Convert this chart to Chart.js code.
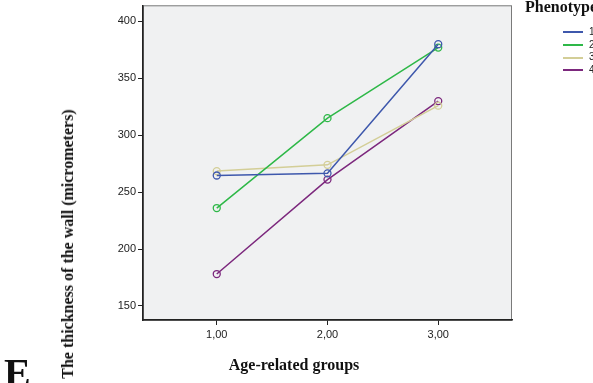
<!DOCTYPE html>
<html>
<head>
<meta charset="utf-8">
<title>Wall thickness by age group</title>
<style>
    html, body { margin: 0; padding: 0; background: #ffffff; overflow: hidden; }
    .wrap { position: relative; width: 593px; height: 383px; overflow: hidden; }
    canvas { position: absolute; left: 0; top: 0; }
    .serif { position: absolute; font-family: 'Liberation Serif', 'DejaVu Serif', serif; font-weight: bold; color: #111; white-space: nowrap; }
    #ytitle { left: 68px; top: 244px; font-size: 16px; transform: translate(-50%, -50%) rotate(-90deg); }
    #xtitle { left: 294px; top: 365px; font-size: 16px; transform: translate(-50%, -50%); }
    #letter { left: 4px; top: 353px; font-size: 40px; line-height: 40px; }
    #legtitle { left: 525px; top: -2px; font-size: 16px; }
    .leg { position: absolute; left: 563px; white-space: nowrap; font-family: 'Liberation Sans', Arial, sans-serif; font-size: 10px; line-height: 12px; color: #222; }
    .leg span { display: inline-block; width: 20px; height: 2px; vertical-align: middle; margin-right: 6px; }
</style>
<script src="https://cdn.jsdelivr.net/npm/chart.js"></script>
</head>
<body>
<div class="wrap">
    <canvas id="chart" width="593" height="383"></canvas>
    <div class="serif" id="ytitle">The thickness of the wall (micrometers)</div>
    <div class="serif" id="xtitle">Age-related groups</div>
    <div class="serif" id="letter">E</div>
    <div class="serif" id="legtitle">Phenotype</div>
    <div id="legend"></div>
</div>
<script>
// age-related groups on the x axis
var groups = [1, 2, 3];
var xTicks = [1, 2, 3];
var yTicks = [150, 200, 250, 300, 350, 400];

// mean wall thickness per phenotype
var phenotypes = ['1', '2', '3', '4'];
var pheno1 = [264.6, 266.5, 380];
var pheno2 = [236, 315, 377];
var pheno3 = [268.5, 274, 326];
var pheno4 = [178, 261, 330];
var colors = ['#3e58ac', '#2eb848', '#d3ce97', '#7c287d'];

var allSeries = [pheno1, pheno2, pheno3, pheno4];

// legend (html so the title can run off the edge like the original)
var legend = document.getElementById('legend');
phenotypes.forEach(function(p, i) {
    var d = document.createElement('div');
    d.className = 'leg';
    d.style.top = (26 + i * 12.7) + 'px';
    d.innerHTML = '<span style="background:' + colors[i] + '"></span>' + p;
    legend.appendChild(d);
});

var plotBg = {
    id: 'plotBg',
    beforeDraw: function(chart) {
        var c = chart.ctx, a = chart.chartArea;
        c.save();
        c.fillStyle = '#f0f1f2';
        c.fillRect(a.left, a.top, a.right - a.left, a.bottom - a.top);
        c.strokeStyle = '#7a7a7a';
        c.lineWidth = 1;
        c.strokeRect(a.left + 0.5, a.top + 0.5, a.right - a.left - 1, a.bottom - a.top);
        c.restore();
    }
};

var datasets = allSeries.map(function(s, i) {
    return {
        label: phenotypes[i],
        data: groups.map(function(g, j) { return { x: g, y: s[j] }; }),
        borderColor: colors[i],
        backgroundColor: 'rgba(0,0,0,0)',
        borderWidth: 1.5,
        pointRadius: 3.5,
        pointBorderWidth: 1.3,
        pointBackgroundColor: 'rgba(0,0,0,0)',
        pointBorderColor: colors[i],
        tension: 0
    };
});

new Chart(document.getElementById('chart').getContext('2d'), {
    type: 'line',
    data: { datasets: datasets },
    options: {
        responsive: false,
        animation: false,
        layout: { padding: { left: 0, right: 81, top: -3, bottom: 0 } },
        plugins: { legend: { display: false }, tooltip: { enabled: false } },
        scales: {
            x: {
                type: 'linear',
                min: 0.334,
                max: 3.666,
                afterBuildTicks: function(s) { s.ticks = xTicks.map(function(v) { return { value: v }; }); },
                afterFit: function(s) { s.height = 63; s.paddingLeft = 0; s.paddingRight = 0; },
                grid: { drawOnChartArea: false, drawTicks: true, tickLength: 5, color: '#222', lineWidth: 1 },
                border: { display: true, color: '#222', width: 1.5 },
                ticks: {
                    padding: 3,
                    color: '#222',
                    font: { family: "'Liberation Sans', Arial, sans-serif", size: 11 },
                    callback: function(v) { return v.toFixed(2).replace('.', ','); }
                }
            },
            y: {
                min: 137.6,
                max: 414.2,
                afterBuildTicks: function(s) { s.ticks = yTicks.map(function(v) { return { value: v }; }); },
                afterFit: function(s) { s.width = 143; s.paddingTop = 0; s.paddingBottom = 0; },
                grid: { drawOnChartArea: false, drawTicks: true, tickLength: 5, color: '#222', lineWidth: 1 },
                border: { display: true, color: '#222', width: 1.5 },
                ticks: {
                    padding: 2,
                    color: '#222',
                    font: { family: "'Liberation Sans', Arial, sans-serif", size: 11 }
                }
            }
        }
    },
    plugins: [plotBg]
});
</script>
</body>
</html>
